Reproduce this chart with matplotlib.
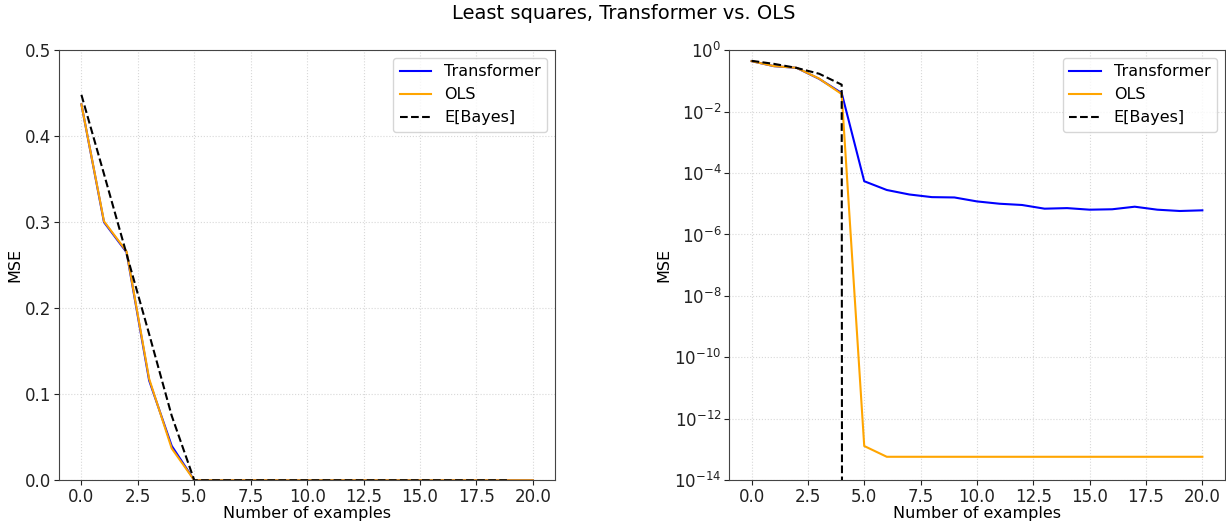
import numpy as np
import matplotlib.pyplot as plt

### Data: mean squared error vs. number of in-context examples
n_examples = np.arange(0, 21)
n_bayes = np.arange(0, 20)

mse_transformer = [0.437, 0.300, 0.265, 0.116, 0.040, 5.4e-5, 2.8e-5, 2.0e-5,
                   1.64e-5, 1.6e-5, 1.19e-5, 1.0e-5, 9.1e-6, 6.9e-6, 7.2e-6,
                   6.4e-6, 6.6e-6, 8.0e-6, 6.4e-6, 5.8e-6, 6.1e-6]
mse_ols = [0.437, 0.301, 0.266, 0.118, 0.037, 1.3e-13, 5.8e-14, 5.8e-14,
           5.8e-14, 5.8e-14, 5.8e-14, 5.8e-14, 5.8e-14, 5.8e-14, 5.8e-14,
           5.8e-14, 5.8e-14, 5.8e-14, 5.8e-14, 5.8e-14, 5.8e-14]
mse_bayes = [0.448, 0.356, 0.263, 0.170, 0.075, 0, 0, 0, 0, 0,
             0, 0, 0, 0, 0, 0, 0, 0, 0, 0]

### Figure
plt.rc('font', size=12)
fig = plt.figure(figsize=(12.26, 5.22), dpi=100)
ax1 = fig.add_axes([0.048, 0.080, 0.405, 0.824])
ax2 = fig.add_axes([0.5946, 0.080, 0.4045, 0.824])

for ax in (ax1, ax2):
    ax.plot(n_examples, mse_transformer, color='blue', lw=1.5, label='Transformer')
    ax.plot(n_examples, mse_ols, color='orange', lw=1.5, label='OLS')
    ax.plot(n_bayes, mse_bayes, 'k--', lw=1.5, label='E[Bayes]')
    ax.grid(color='#d8d8d8', linestyle=':', linewidth=0.8)
    ax.set_axisbelow(True)
    for sp in ax.spines.values():
        sp.set_color('#444444')
    ax.tick_params(colors='#222222', labelsize=12, pad=2)
    ax.set_xlabel('Number of examples', fontsize=11.5, labelpad=0)
    ax.set_ylabel('MSE', fontsize=11.5, labelpad=2)
    ax.set_xticks(np.arange(0, 20.1, 2.5))
    ax.set_xlim(-1, 21)
    ax.legend(loc='upper right', fontsize=11.5)

ax1.set_ylim(0, 0.5)

ax2.set_yscale('log')
ax2.set_ylim(1e-14, 1)
ax2.set_yticks([10.0**k for k in range(-14, 1, 2)])
ax2.minorticks_off()

fig.suptitle('Least squares, Transformer vs. OLS', x=0.509, y=0.993, fontsize=14)

plt.savefig('out.png', dpi=100)
